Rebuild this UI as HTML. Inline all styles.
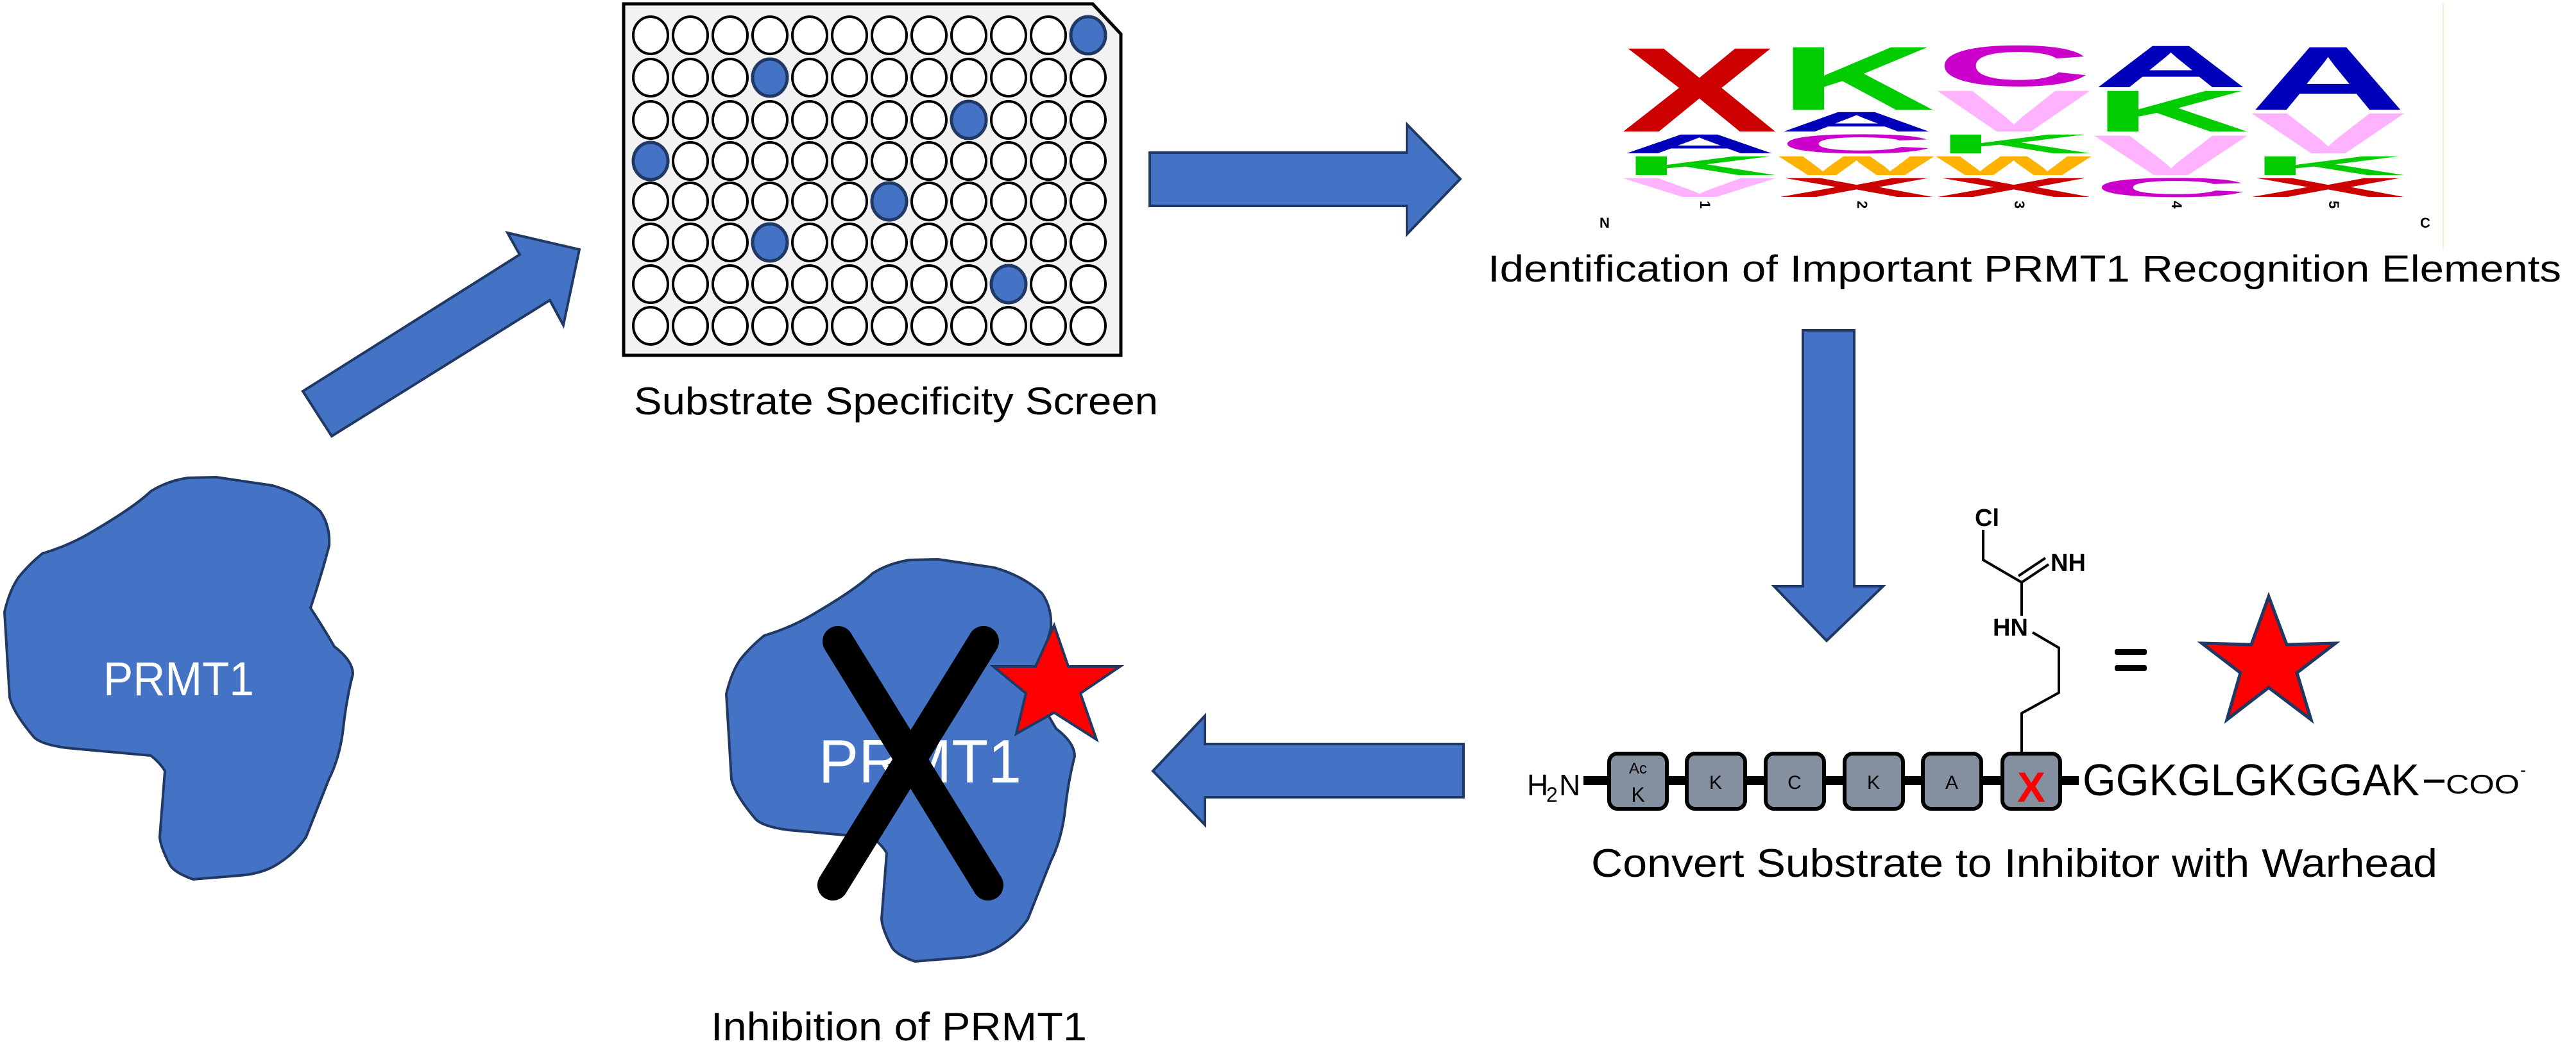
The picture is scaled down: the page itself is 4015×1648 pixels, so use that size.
<!DOCTYPE html>
<html><head><meta charset="utf-8"><style>html,body{margin:0;padding:0;background:#fff}svg{display:block}</style></head>
<body>
<svg width="4015" height="1648" viewBox="0 0 4015 1648" xmlns="http://www.w3.org/2000/svg" font-family="Liberation Sans, sans-serif">
<defs>
<g id="row" stroke="#000" stroke-width="4" fill="#fff">
<ellipse cx="1014" cy="0" rx="27" ry="29"/><ellipse cx="1076" cy="0" rx="27" ry="29"/><ellipse cx="1138" cy="0" rx="27" ry="29"/><ellipse cx="1200" cy="0" rx="27" ry="29"/><ellipse cx="1262" cy="0" rx="27" ry="29"/><ellipse cx="1324" cy="0" rx="27" ry="29"/><ellipse cx="1386" cy="0" rx="27" ry="29"/><ellipse cx="1448" cy="0" rx="27" ry="29"/><ellipse cx="1510" cy="0" rx="27" ry="29"/><ellipse cx="1572" cy="0" rx="27" ry="29"/><ellipse cx="1634" cy="0" rx="27" ry="29"/><ellipse cx="1696" cy="0" rx="27" ry="29"/>
</g>
<path id="blob" d="M337,744 L425,757 Q470,770 499,797 Q515,820 513,851 Q500,900 484,948 Q505,980 521,1008 Q550,1030 550,1051 Q540,1090 535,1135 Q530,1180 513,1214 Q495,1260 477,1305 Q460,1330 433,1347 Q410,1362 374,1365 L301,1371 Q270,1360 264,1347 Q250,1320 249,1305 L257,1202 Q250,1190 235,1178 L103,1166 Q60,1160 51,1147 Q20,1110 15,1087 L7,954 Q15,920 29,900 Q45,880 66,863 Q110,850 147,827 Q210,790 235,766 Q260,750 293,745 Z"/>
</defs>
<!-- plate -->
<polygon points="972,6 1703,6 1747,53 1747,554 972,554" fill="#f2f2f2" stroke="#000" stroke-width="5"/>
<use href="#row" y="55"/><use href="#row" y="121"/><use href="#row" y="187"/><use href="#row" y="251"/>
<use href="#row" y="314"/><use href="#row" y="378"/><use href="#row" y="443"/><use href="#row" y="508"/>
<g fill="#4472c4" stroke="#1f3864" stroke-width="5">
<ellipse cx="1696" cy="55" rx="27" ry="29"/>
<ellipse cx="1200" cy="121" rx="27" ry="29"/>
<ellipse cx="1510" cy="187" rx="27" ry="29"/>
<ellipse cx="1014" cy="251" rx="27" ry="29"/>
<ellipse cx="1386" cy="314" rx="27" ry="29"/>
<ellipse cx="1200" cy="378" rx="27" ry="29"/>
<ellipse cx="1572" cy="443" rx="27" ry="29"/>
</g>
<text x="988" y="646" font-size="60" textLength="817" lengthAdjust="spacingAndGlyphs">Substrate Specificity Screen</text>
<!-- diagonal arrow -->
<polygon points="472,610 810,397 791,363 903,389 878,507 857,468 517,680" fill="#4472c4" stroke="#1f3864" stroke-width="4"/>
<!-- right arrow -->
<polygon points="1792,238 2193,238 2193,194 2276,279 2193,365 2193,321 1792,321" fill="#4472c4" stroke="#1f3864" stroke-width="4"/>
<!-- logo -->
<g font-weight="bold" font-size="100">
<text fill="#cc0000" transform="translate(2527,205) scale(3.643,1.879)">X</text>
<text fill="#0000bb" transform="translate(2527,239) scale(3.366,0.425)">A</text>
<text fill="#00cc00" transform="translate(2527,273) scale(3.366,0.425)">K</text>
<text fill="#ffb3ff" transform="translate(2527,307) scale(3.643,0.425)">V</text>

<text fill="#00cc00" transform="translate(2772,171) scale(3.366,1.413)">K</text>
<text fill="#0000bb" transform="translate(2772,205) scale(3.366,0.439)">A</text>
<text fill="#cc00cc" transform="translate(2772,239) scale(3.366,0.425)">C</text>
<text fill="#ffb300" transform="translate(2772,273) scale(2.574,0.425)">W</text>
<text fill="#cc0000" transform="translate(2772,307) scale(3.643,0.425)">X</text>

<text fill="#cc00cc" transform="translate(3017,134) scale(3.366,0.905)">C</text>
<text fill="#ffb3ff" transform="translate(3017,205) scale(3.643,0.919)">V</text>
<text fill="#00cc00" transform="translate(3017,239) scale(3.366,0.425)">K</text>
<text fill="#ffb300" transform="translate(3017,273) scale(2.574,0.425)">W</text>
<text fill="#cc0000" transform="translate(3017,307) scale(3.643,0.425)">X</text>

<text fill="#0000bb" transform="translate(3262,136) scale(3.366,0.933)">A</text>
<text fill="#00cc00" transform="translate(3262,205) scale(3.366,0.919)">K</text>
<text fill="#ffb3ff" transform="translate(3262,273) scale(3.643,0.892)">V</text>
<text fill="#cc00cc" transform="translate(3262,307) scale(3.366,0.425)">C</text>

<text fill="#0000bb" transform="translate(3507,171) scale(3.366,1.413)">A</text>
<text fill="#ffb3ff" transform="translate(3507,239) scale(3.643,0.905)">V</text>
<text fill="#00cc00" transform="translate(3507,273) scale(3.366,0.425)">K</text>
<text fill="#cc0000" transform="translate(3507,307) scale(3.643,0.425)">X</text>
</g>
<g font-size="22" font-weight="bold">
<text transform="translate(2650,313) rotate(90)">1</text>
<text transform="translate(2895,313) rotate(90)">2</text>
<text transform="translate(3140,313) rotate(90)">3</text>
<text transform="translate(3385,313) rotate(90)">4</text>
<text transform="translate(3630,313) rotate(90)">5</text>
<text x="2493" y="355">N</text>
<text x="3772" y="355">C</text>
</g>
<line x1="3808" y1="5" x2="3808" y2="389" stroke="#f3f0d0" stroke-width="2"/>
<text x="2319" y="439" font-size="58" textLength="1673" lengthAdjust="spacingAndGlyphs">Identification of Important PRMT1 Recognition Elements</text>
<!-- down arrow -->
<polygon points="2810,515 2890,515 2890,914 2935,914 2847,999 2765,914 2810,914" fill="#4472c4" stroke="#1f3864" stroke-width="4"/>
<!-- side chain -->
<g stroke="#000" stroke-width="4" fill="none">
<polyline points="3151,1175 3151,1112 3209,1080 3209,1010 3168,986"/>
<line x1="3151" y1="960" x2="3151" y2="908"/>
<polyline points="3091,826 3091,873 3151,908"/>
<line x1="3151" y1="908" x2="3193" y2="880"/>
<line x1="3146" y1="898" x2="3188" y2="870"/>
</g>
<g font-weight="bold" font-size="38">
<text x="3078" y="820">Cl</text>
<text x="3196" y="890">NH</text>
<text x="3106" y="991">HN</text>
</g>
<rect x="3296" y="1012" width="50" height="9" rx="3" fill="#000"/>
<rect x="3296" y="1037" width="50" height="9" rx="3" fill="#000"/>
<polygon points="3536,930 3564,1005 3640,1003 3580,1049 3602,1122 3536,1072 3471,1122 3492,1049 3432,1003 3509,1005" fill="#ff0000" stroke="#1f3864" stroke-width="5"/>
<!-- peptide -->
<line x1="2468" y1="1217" x2="3240" y2="1217" stroke="#000" stroke-width="14"/>
<g fill="#848fa0" stroke="#000" stroke-width="6">
<rect x="2508" y="1175" width="90" height="86" rx="13"/>
<rect x="2629" y="1175" width="91" height="86" rx="13"/>
<rect x="2752" y="1175" width="91" height="86" rx="13"/>
<rect x="2875" y="1175" width="91" height="86" rx="13"/>
<rect x="2997" y="1175" width="91" height="86" rx="13"/>
<rect x="3121" y="1175" width="90" height="86" rx="13"/>
</g>
<g font-size="30" text-anchor="middle" fill="#000">
<text x="2553" y="1206" font-size="24">Ac</text>
<text x="2553" y="1250" font-size="32">K</text>
<text x="2674" y="1230">K</text>
<text x="2797" y="1230">C</text>
<text x="2920" y="1230">K</text>
<text x="3042" y="1230">A</text>
</g>
<text x="3166" y="1250" font-size="66" font-weight="bold" fill="#ff0000" text-anchor="middle">X</text>
<text x="2380" y="1240" font-size="46">H</text>
<text x="2410" y="1250" font-size="32">2</text>
<text x="2430" y="1240" font-size="46">N</text>
<text x="3246" y="1240" font-size="70" textLength="525" lengthAdjust="spacingAndGlyphs">GGKGLGKGGAK</text>
<line x1="3778" y1="1218" x2="3810" y2="1218" stroke="#000" stroke-width="5"/>
<text x="3812" y="1237" font-size="42" textLength="115" lengthAdjust="spacingAndGlyphs">COO</text>
<text x="3928" y="1210" font-size="28">-</text>
<text x="2480" y="1367" font-size="62" textLength="1319" lengthAdjust="spacingAndGlyphs">Convert Substrate to Inhibitor with Warhead</text>
<!-- left arrow -->
<polygon points="1797,1202 1878,1116 1878,1160 2281,1160 2281,1243 1878,1243 1878,1286" fill="#4472c4" stroke="#1f3864" stroke-width="4"/>
<!-- blobs -->
<use href="#blob" fill="#4472c4" stroke="#1f3864" stroke-width="4"/>
<text x="161" y="1084" font-size="74" fill="#fff" textLength="235" lengthAdjust="spacingAndGlyphs">PRMT1</text>
<use href="#blob" transform="translate(1125,128)" fill="#4472c4" stroke="#1f3864" stroke-width="4"/>
<text x="1276" y="1220" font-size="96" fill="#fff" textLength="316" lengthAdjust="spacingAndGlyphs">PRMT1</text>
<g stroke="#000" stroke-width="48" stroke-linecap="round">
<line x1="1306" y1="1000" x2="1540" y2="1380"/>
<line x1="1533" y1="1000" x2="1298" y2="1380"/>
</g>
<polygon points="1643,975 1665,1039 1746,1039 1684,1081 1709,1153 1643,1111 1584,1144 1599,1081 1548,1039 1614,1039" fill="#ff0000" stroke="#1f3864" stroke-width="4"/>
<text x="1108" y="1622" font-size="62" textLength="586" lengthAdjust="spacingAndGlyphs">Inhibition of PRMT1</text>
</svg>
</body></html>
